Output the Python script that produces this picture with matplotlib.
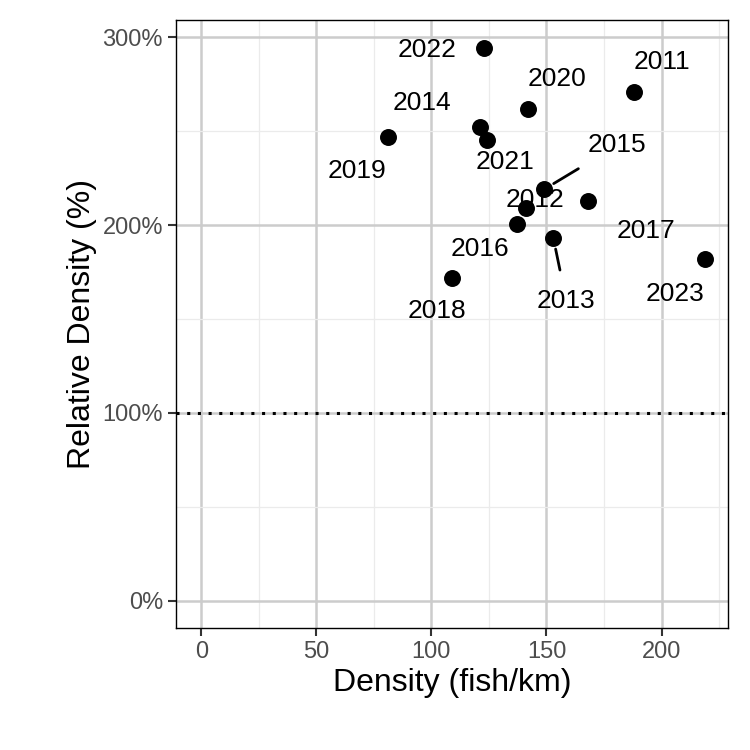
import numpy as np
import matplotlib.pyplot as plt
from matplotlib.ticker import MultipleLocator, FuncFormatter

plt.rcParams['font.family'] = ['Liberation Sans', 'DejaVu Sans']

years = ['2011', '2012', '2013', '2014', '2015', '2016', '2017', '2018',
         '2019', '2020', '2021', '2022', '2023']
density = [188, 141, 153, 121, 149, 137, 168, 109, 81, 142, 124, 123, 219]
rel_density = [271, 209, 193, 252, 219, 200.5, 213, 172, 247, 262, 245, 294, 182]

# label offsets in pixels (dx, dy), plus whether a leader line is drawn
offsets = {'2011': (28, 30), '2012': (9, 8), '2013': (13, -63, True),
           '2014': (-58, 24), '2015': (73, 44, True), '2016': (-37, -25),
           '2017': (58, -30), '2018': (-15, -33), '2019': (-31, -34),
           '2020': (29, 30), '2021': (18, -22), '2022': (-57, -2),
           '2023': (-30, -35)}

fig = plt.figure(figsize=(7.5, 7.5), dpi=100)
ax = fig.add_axes([0.235, 0.163, 0.736, 0.81])

ax.set_xlim(-10.9, 229)
ax.set_ylim(-14.4, 309)
ax.xaxis.set_major_locator(MultipleLocator(50))
ax.xaxis.set_minor_locator(MultipleLocator(25))
ax.yaxis.set_major_locator(MultipleLocator(100))
ax.yaxis.set_minor_locator(MultipleLocator(50))
ax.yaxis.set_major_formatter(FuncFormatter(lambda v, p: '%d%%' % v))
ax.grid(which='major', color='#cccccc', lw=1.8)
ax.grid(which='minor', color='#ebebeb', lw=0.9)
ax.set_axisbelow(True)
for s in ax.spines.values():
    s.set_linewidth(1.0)
ax.tick_params(which='major', length=6, width=1.5, color='#333333',
               labelsize=17, labelcolor='#4d4d4d')
ax.tick_params(which='minor', length=0)

ax.axhline(100, color='black', ls=(0, (1, 2.5)), lw=2.2)
ax.scatter(density, rel_density, s=125, color='black', zorder=3)

for yr, x, y in zip(years, density, rel_density):
    o = offsets[yr]
    kw = {}
    if len(o) > 2:
        kw['arrowprops'] = dict(arrowstyle='-', color='black', lw=2,
                                shrinkA=12, shrinkB=8)
    ax.annotate(yr, (x, y), xytext=(o[0], o[1]), textcoords='offset pixels',
                ha='center', va='center', fontsize=19, **kw)

ax.set_xlabel('Density (fish/km)', fontsize=23)
ax.set_ylabel('Relative Density (%)', fontsize=23)

fig.savefig('out.png', dpi=100)
